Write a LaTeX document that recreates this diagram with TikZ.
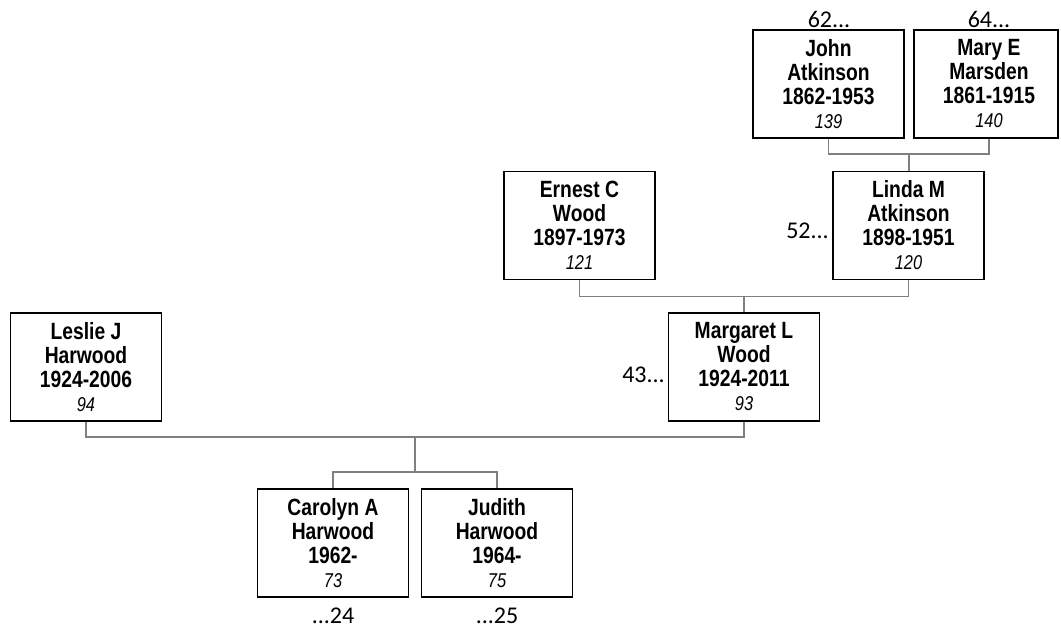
\documentclass[tikz,border=0pt]{standalone}
\usepackage{fontspec}
\usetikzlibrary{calc}
\newfontfamily\narrowfont[FakeStretch=0.82]{Liberation Sans}
\newfontfamily\labelfont{Carlito}
\definecolor{conngray}{RGB}{128,128,128}
\newcommand{\idn}[1]{{\fontsize{20}{24}\selectfont\mdseries\itshape #1}}
\tikzset{
  person/.style={draw=black, line width=1.9pt, minimum width=151pt, minimum height=108pt,
    inner sep=0pt, align=center, font=\narrowfont\bfseries\fontsize{23.5}{24}\selectfont},
  persontext/.style={inner sep=0pt, align=center, font=\narrowfont\bfseries\fontsize{23.5}{24}\selectfont},
  conn/.style={draw=conngray, line width=1.9pt},
  gen/.style={inner sep=0pt, font=\labelfont\fontsize{24}{26}\selectfont}
}
\begin{document}
\begin{tikzpicture}[x=1pt, y=-1pt]
\useasboundingbox (0,0) rectangle (1061,627);
% boxes
\node[person] (john) at (828.5,84) {John\\Atkinson\\1862-1953\\\idn{139}};
\node[person, minimum width=144pt] (mary) at (986,84) {};
\node[persontext] (marytxt) at (989,84) {Mary E\\Marsden\\1861-1915\\\idn{140}};
\node[person] (ernest) at (579.5,225.5) {Ernest C\\Wood\\1897-1973\\\idn{121}};
\node[person] (linda) at (908.5,225.5) {Linda M\\Atkinson\\1898-1951\\\idn{120}};
\node[person] (leslie) at (86,367) {Leslie J\\Harwood\\1924-2006\\\idn{94}};
\node[person] (margaret) at (744,367) {Margaret L\\Wood\\1924-2011\\\idn{93}};
\node[person] (carolyn) at (333,543) {Carolyn A\\Harwood\\1962-\\\idn{73}};
\node[person] (judith) at (497,543) {Judith\\Harwood\\1964-\\\idn{75}};
% generation labels
\node[gen, anchor=base] (l62) at (829,27) {62...};
\node[gen, anchor=base] (l64) at (989,27) {64...};
\node[gen, anchor=base east] (l52) at (829,238) {52...};
\node[gen, anchor=base east] (l43) at (665,382) {43...};
\node[gen, anchor=base] (l24) at (333,623) {...24};
\node[gen, anchor=base] (l25) at (497,623) {...25};
% connectors
\coordinate (maryb) at (marytxt.center |- mary.south);
\draw[conn] (john.south) -- ++(0,15) coordinate (j1) -| (maryb);
\coordinate (m1) at ($(j1)!0.5!(j1 -| maryb)$);
\draw[conn] (m1) -- (m1 |- linda.north);
\draw[conn] (ernest.south) -- ++(0,16) coordinate (e1) -| (linda.south);
\coordinate (m2) at ($(e1)!0.5!(e1 -| linda.south)$);
\draw[conn] (m2) -- (m2 |- margaret.north);
\draw[conn] (leslie.south) -- ++(0,15) coordinate (s1) -| (margaret.south);
\coordinate (m3) at ($(s1)!0.5!(s1 -| margaret.south)$);
\coordinate (c1) at ($(carolyn.north)+(0,-16)$);
\draw[conn] (m3) -- (m3 |- c1);
\draw[conn] (carolyn.north) -- (c1) -| (judith.north);
\end{tikzpicture}
\end{document}
